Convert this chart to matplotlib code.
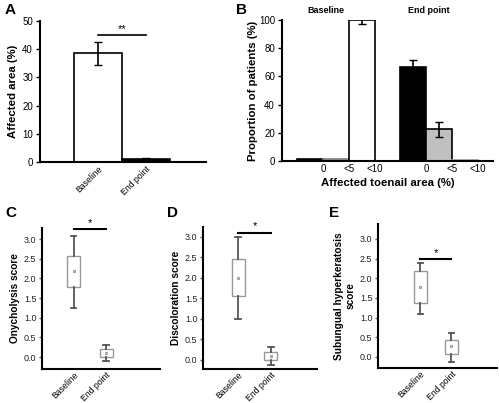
import matplotlib
matplotlib.use('Agg')
from matplotlib import pyplot as plt

plt.rcParams['font.family'] = ['Liberation Sans', 'DejaVu Sans']

W, H = 500, 403

# Panel A data
a_labels = ['Baseline', 'End point']
a_means = [38.5, 1.0]
a_errs = [4.2, 0.3]

# Panel B data
b_ticks = ['0', '<5', '<10']
b_base = [1.5, 1.5, 100]
b_base_err = [0, 0, 3]
b_end = [67, 22.5, 0.5]
b_end_err = [4.5, 5.5, 0]
b_colors = ['black', '#c0c0c0', 'white']

# Panels C-E box stats: (whislo, q1, mean, q3, whishi)
c_stats = [(1.25, 1.78, 2.2, 2.57, 3.08), (-0.1, 0.0, 0.1, 0.2, 0.32)]
d_stats = [(1.0, 1.55, 2.0, 2.45, 3.0), (-0.12, 0.0, 0.1, 0.2, 0.32)]
e_stats = [(1.1, 1.38, 1.77, 2.18, 2.4), (-0.12, 0.07, 0.27, 0.42, 0.62)]
box_labels = ['Baseline', 'End point']


def px_axes(fig, left, top, right, bottom):
    return fig.add_axes([left / W, 1 - bottom / H, (right - left) / W, (bottom - top) / H])


def style(ax):
    for s in ['top', 'right']:
        ax.spines[s].set_visible(False)
    for s in ['left', 'bottom']:
        ax.spines[s].set_linewidth(1.5)
    ax.tick_params(axis='y', labelsize=7, width=1, length=3, pad=2)
    ax.tick_params(axis='x', labelsize=6.2, length=0, pad=2)


fig = plt.figure(figsize=(W / 100, H / 100), dpi=100)

# ---- A ----
ax = px_axes(fig, 40, 21, 206, 162)
style(ax)
ax.bar([0, 1], a_means, width=1, color=['white', 'black'], edgecolor='black', linewidth=1.2)
ax.errorbar([0, 1], a_means, yerr=a_errs, fmt='none', ecolor='black', capsize=3, elinewidth=1.2)
ax.set_xlim(-1.21, 2.25)
ax.set_ylim(0, 50)
ax.set_yticks(range(0, 51, 10))
ax.set_xticks([0, 1])
ax.set_xticklabels(a_labels, rotation=45, ha='right', rotation_mode='anchor')
ax.set_ylabel('Affected area (%)', fontsize=8.2, fontweight='bold', labelpad=3)
ax.plot([0, 1], [45, 45], color='black', lw=1.2)
ax.text(0.5, 45.5, '**', ha='center', va='bottom', fontsize=8)
fig.text(5 / W, 1 - 10 / H, 'A', fontsize=11, fontweight='bold', va='center')

# ---- B ----
ax = px_axes(fig, 282, 20, 493, 161)
style(ax)
ax.tick_params(axis='x', labelsize=7)
xb = [0, 1, 2]
xe = [4, 5, 6]
ax.bar(xb, b_base, width=1, color=b_colors, edgecolor=['black', '#808080', 'black'], linewidth=1.2)
ax.bar(xe, b_end, width=1, color=b_colors, edgecolor=['black', 'black', '#a0a0a0'], linewidth=1.2)
ax.errorbar([2], [b_base[2]], yerr=[b_base_err[2]], fmt='none', ecolor='black', capsize=3, elinewidth=1.2)
ax.errorbar(xe[:2], b_end[:2], yerr=b_end_err[:2], fmt='none', ecolor='black', capsize=3, elinewidth=1.2)
ax.set_xlim(-1.1, 7.1)
ax.set_ylim(0, 100)
ax.set_yticks(range(0, 101, 20))
ax.set_xticks([x + 0.5 for x in xb + xe])
ax.set_xticklabels(b_ticks + b_ticks)
ax.set_xlabel('Affected toenail area (%)', fontsize=8.2, fontweight='bold', labelpad=3)
ax.set_ylabel('Proportion of patients (%)', fontsize=8.2, fontweight='bold', labelpad=1)
ax.text(0.62, 106.4, 'Baseline', ha='center', va='center', fontsize=6.5, fontweight='bold', clip_on=False)
ax.text(4.6, 106.4, 'End point', ha='center', va='center', fontsize=6.5, fontweight='bold', clip_on=False)
fig.text(236 / W, 1 - 10 / H, 'B', fontsize=11, fontweight='bold', va='center')


def box_panel(ax, stats, ylabel, sig_y, xlim, ylim):
    style(ax)
    bx = []
    for (lo, q1, m, q3, hi), lab in zip(stats, box_labels):
        bx.append(dict(whislo=lo, q1=q1, med=m, q3=q3, whishi=hi, mean=m, fliers=[], label=lab))
    ax.bxp(bx, positions=[1, 2], widths=0.4, showmeans=True, showfliers=False,
           patch_artist=True, capwidths=0.18,
           boxprops=dict(facecolor='white', edgecolor='#999999', linewidth=1),
           whiskerprops=dict(color='#555555', linewidth=1.3),
           capprops=dict(color='#555555', linewidth=1.3),
           medianprops=dict(linewidth=0),
           meanprops=dict(marker='s', markersize=2, markerfacecolor='#bbbbbb', markeredgecolor='#888888', markeredgewidth=0.5))
    ax.set_xlim(*xlim)
    ax.set_ylim(*ylim)
    ax.set_yticks([0, 0.5, 1.0, 1.5, 2.0, 2.5, 3.0])
    ax.set_yticklabels(['0.0', '0.5', '1.0', '1.5', '2.0', '2.5', '3.0'])
    ax.tick_params(axis='y', labelsize=6.5, colors='#555555', labelcolor='#222222', length=2)
    ax.tick_params(axis='x', pad=1)
    ax.set_xticklabels(box_labels, rotation=45, ha='right', rotation_mode='anchor')
    ax.set_ylabel(ylabel, fontsize=7.3, fontweight='bold', labelpad=3)
    ax.plot([1, 2], [sig_y, sig_y], color='black', lw=1.5)
    ax.text(1.5, sig_y + 0.03, '*', ha='center', va='bottom', fontsize=8)


ax = px_axes(fig, 42, 228, 160, 369)
box_panel(ax, c_stats, 'Onycholysis score', 3.25, (0.03, 3.66), (-0.3, 3.28))
fig.text(5 / W, 1 - 213 / H, 'C', fontsize=11, fontweight='bold', va='center')

ax = px_axes(fig, 203, 227, 317, 369)
box_panel(ax, d_stats, 'Discoloration score', 3.1, (-0.09, 3.42), (-0.22, 3.24))
fig.text(167 / W, 1 - 213 / H, 'D', fontsize=11, fontweight='bold', va='center')

ax = px_axes(fig, 378, 224, 497, 368)
box_panel(ax, e_stats, 'Subungual hyperkeratosis\nscore', 2.49, (-0.37, 3.47), (-0.28, 3.38))
fig.text(329 / W, 1 - 213 / H, 'E', fontsize=11, fontweight='bold', va='center')

fig.savefig('out.png', dpi=100)
